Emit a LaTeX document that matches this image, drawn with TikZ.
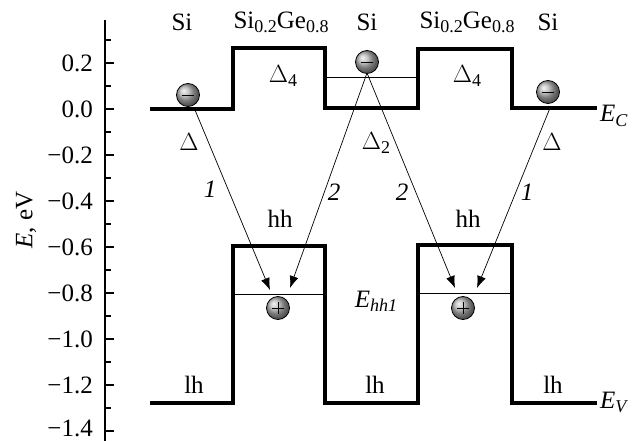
\documentclass[tikz,border=0pt]{standalone}
\usepackage{fontspec}
\setmainfont{Liberation Serif}
\usetikzlibrary{arrows.meta}
\newcommand{\lowsub}[1]{\raisebox{-0.35ex}{\fontsize{18}{18}\selectfont #1}}
\begin{document}
\begin{tikzpicture}[x=1pt,y=-1pt,
  band/.style={line width=3.6pt,line join=miter},
  level/.style={line width=1pt},
  axisline/.style={line width=2.2pt},
  tick/.style={line width=1.6pt},
  lbl/.style={font=\fontsize{25}{27}\selectfont,inner sep=0pt},
  num/.style={font=\fontsize{25}{27}\selectfont,inner sep=0pt,text depth=0pt,anchor=base east},
  trans/.style={line width=0.7pt,-{Latex[length=12pt,width=9pt]}},
  electron/.style={circle,draw=black,line width=0.8pt,shading=ball,ball color=gray!60,minimum size=23pt,inner sep=0pt},
  hole/.style={circle,draw=black,line width=0.8pt,shading=ball,ball color=gray!60,minimum size=23pt,inner sep=0pt}
]
\useasboundingbox (0,0) rectangle (635,441);
% axis
\draw[axisline] (105,20) -- (105,441);
\foreach \e/\t in {0.2/0.2,0.0/0.0,-0.2/−0.2,-0.4/−0.4,-0.6/−0.6,-0.8/−0.8,-1.0/−1.0,-1.2/−1.2}{
  \draw[tick] (105,{109-230*\e}) -- (114,{109-230*\e});
  \node[num] at (93,{109-230*\e+8.3}) {\t};
}
\draw[tick] (105,431) -- (114,431);
\node[num] (lastnum) at (93,436) {−1.4};
\foreach \e in {0.3,0.1,-0.1,-0.3,-0.5,-0.7,-0.9,-1.1,-1.3}{
  \draw[tick] (105,{109-230*\e}) -- (111,{109-230*\e});
}
\node[lbl,rotate=90] (ylab) at (26,220) {\textit{E}, eV};
% conduction band
\draw[band] (150,109) -- (233,109) -- (233,48) -- (325,48) -- (325,108) -- (418,108) -- (418,49) -- (512,49) -- (512,108) -- (597,108);
\draw[level] (325,78) -- (418,78);
% valence band
\draw[band] (150,403) -- (233,403) -- (233,246) -- (325,246) -- (325,403) -- (418,403) -- (418,245) -- (512,245) -- (512,403) -- (597,403);
\draw[level] (233,294) -- (325,294);
\draw[level] (418,293) -- (512,293);
% band labels
\node[lbl,anchor=base west] (ec) at (600,122) {\textit{E}\lowsub{\textit{C}}};
\node[lbl,anchor=base west] (ev) at (600,408) {\textit{E}\lowsub{\textit{V}}};
% layer labels
\node[lbl] (si1) at (182,22) {Si};
\node[lbl] (sg1) at (281,22) {Si\lowsub{0.2}Ge\lowsub{0.8}};
\node[lbl] (si2) at (367,22) {Si};
\node[lbl] (sg2) at (467,22) {Si\lowsub{0.2}Ge\lowsub{0.8}};
\node[lbl] (si3) at (548,22) {Si};
% valley labels
\node[lbl] (d41) at (283,76) {$\Delta$\lowsub{4}};
\node[lbl] (d42) at (467,76) {$\Delta$\lowsub{4}};
\node[lbl] (d1) at (189,142) {$\Delta$};
\node[lbl] (d2) at (376,143) {$\Delta$\lowsub{2}};
\node[lbl] (d3) at (552,142) {$\Delta$};
\node[lbl] (hh1) at (280,219) {hh};
\node[lbl] (hh2) at (468,219) {hh};
\node[lbl] (lh1) at (194,385) {lh};
\node[lbl] (lh2) at (375,385) {lh};
\node[lbl] (lh3) at (553,385) {lh};
\node[lbl] (ehh) at (376,301) {\textit{E}\lowsub{\textit{hh1}}};
% particles
\node[electron] (e1) at (188,95) {};
\node[electron] (e2) at (367,62) {};
\node[electron] (e3) at (548,92) {};
\node[hole] (h1) at (278,308) {};
\node[hole] (h2) at (463,308) {};
\foreach \n in {e1,e2,e3}{\draw[line width=0.9pt] ([xshift=-6pt]\n.center) -- ([xshift=6pt]\n.center);}
\foreach \n in {h1,h2}{\draw[line width=0.9pt] ([xshift=-6pt]\n.center) -- ([xshift=6pt]\n.center) ([yshift=-6pt]\n.center) -- ([yshift=6pt]\n.center);}
% transitions
\coordinate (s1) at (195,110);
\coordinate (s2) at (367,73);
\coordinate (s3) at (550,108);
\coordinate (t1) at (270,290);
\coordinate (t2) at (290,288);
\coordinate (t3) at (455,288);
\coordinate (t4) at (477,288);
\draw[trans] (s1) -- (t1);
\draw[trans] (s2) -- (t2);
\draw[trans] (s2) -- (t3);
\draw[trans] (s3) -- (t4);
\node[lbl] (n1) at (210,189) {\textit{1}};
\node[lbl] (n2) at (334,192) {\textit{2}};
\node[lbl] (n3) at (402,192) {\textit{2}};
\node[lbl] (n4) at (527,192) {\textit{1}};
\end{tikzpicture}
\end{document}
